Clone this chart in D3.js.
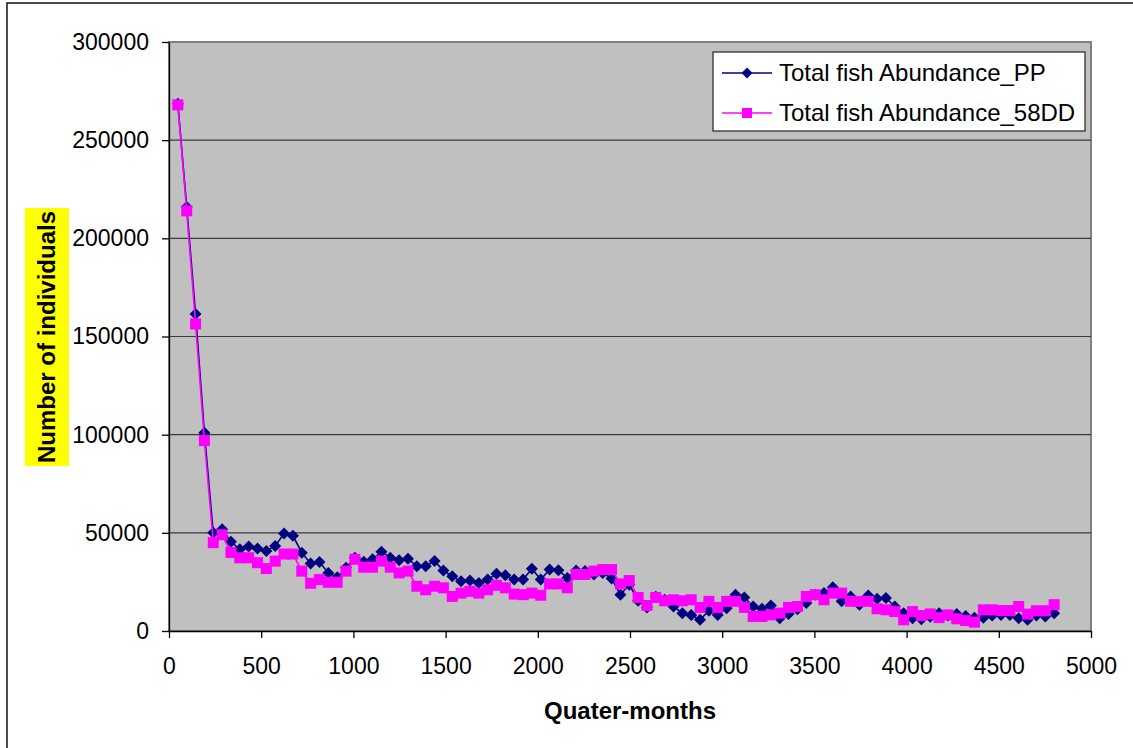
<!DOCTYPE html>
<html>
<head>
    <meta charset="utf-8">
    <title>Total fish abundance</title>
    <style>
        body { margin: 0; background: white; }
        svg { display: block; font-family: "Liberation Sans", Arial, sans-serif; }
    </style>
    <script src="https://cdnjs.cloudflare.com/ajax/libs/d3/7.8.5/d3.min.js"></script>
</head>
<body>
    <script>
        // quarter-months
        const months = [48, 96, 144, 192, 240, 288, 336, 384, 432, 480,
            528, 576, 624, 672, 720, 768, 816, 864, 912, 960,
            1008, 1056, 1104, 1152, 1200, 1248, 1296, 1344, 1392, 1440,
            1488, 1536, 1584, 1632, 1680, 1728, 1776, 1824, 1872, 1920,
            1968, 2016, 2064, 2112, 2160, 2208, 2256, 2304, 2352, 2400,
            2448, 2496, 2544, 2592, 2640, 2688, 2736, 2784, 2832, 2880,
            2928, 2976, 3024, 3072, 3120, 3168, 3216, 3264, 3312, 3360,
            3408, 3456, 3504, 3552, 3600, 3648, 3696, 3744, 3792, 3840,
            3888, 3936, 3984, 4032, 4080, 4128, 4176, 4224, 4272, 4320,
            4368, 4416, 4464, 4512, 4560, 4608, 4656, 4704, 4752, 4800]

        const abundancePP = [268500, 216000, 161500, 101000, 50000, 51800, 45400, 41600, 43000, 42000,
            40800, 43300, 49700, 48500, 39900, 34400, 35100, 29600, 27400, 32200,
            37300, 35300, 36500, 40400, 37300, 36000, 36800, 33000, 33000, 35600,
            30800, 27900, 25300, 25700, 24500, 26200, 29100, 28400, 26200, 26200,
            31700, 26200, 31300, 31000, 27000, 30800, 30500, 28800, 29600, 26700,
            18500, 23600, 15400, 12000, 17500, 15900, 12500, 9100, 8200, 5700,
            10300, 8200, 11600, 18500, 17100, 12500, 11300, 13000, 6500, 8600,
            11100, 14200, 18500, 19300, 22300, 15100, 17600, 13400, 18100, 16400,
            16800, 12500, 9100, 6500, 6000, 7200, 9100, 7900, 8700, 7700,
            6800, 6800, 7900, 8200, 8200, 6500, 5700, 7900, 7400, 9100]

        const abundance58DD = [268000, 214000, 156400, 97000, 45000, 49000, 40000, 37300, 37300, 34800,
            31800, 35600, 39200, 39200, 30500, 24300, 26200, 24800, 24800, 30500,
            36500, 32500, 32500, 35600, 32500, 29600, 30500, 22800, 21000, 22800,
            22000, 17600, 19300, 20200, 19300, 21000, 23300, 22000, 18800, 18500,
            19300, 18200, 24000, 24000, 22000, 28800, 28800, 30500, 31300, 31300,
            24000, 25700, 17100, 13000, 17100, 15400, 15900, 15400, 15900, 12000,
            15100, 12000, 15100, 15100, 12000, 7400, 7400, 8200, 9100, 12000,
            12500, 17600, 18500, 15900, 19300, 19300, 15100, 15100, 15100, 11300,
            10800, 9900, 5700, 9900, 7900, 8700, 6800, 8200, 6200, 5300,
            4500, 10800, 10800, 10400, 10400, 12500, 8600, 10300, 10300, 13400]

        const seriesNames = ["Total fish Abundance_PP", "Total fish Abundance_58DD"]
        const xTicks = [0, 500, 1000, 1500, 2000, 2500, 3000, 3500, 4000, 4500, 5000]
        const yTicks = [0, 50000, 100000, 150000, 200000, 250000, 300000]

        const width = 1133
        const height = 748
        const plot = {left: 169, right: 1091, top: 42, bottom: 631}
        const navy = "#000080"
        const magenta = "#FF00FF"

        let svg = d3.select("body").append("svg")
            .attr("width", width)
            .attr("height", height)

        // outer chart frame (runs off the right / bottom of the picture)
        svg.append("rect")
            .attr("x", 7).attr("y", 3)
            .attr("width", width + 20).attr("height", height + 20)
            .attr("fill", "white")
            .attr("stroke", "#111")
            .attr("stroke-width", 1.5)

        let x_scale = d3.scaleLinear()
            .domain([0, 5000])
            .range([plot.left, plot.right])
        let y_scale = d3.scaleLinear()
            .domain([0, 300000])
            .range([plot.bottom, plot.top])

        // plot area
        svg.append("rect")
            .attr("x", plot.left).attr("y", plot.top)
            .attr("width", plot.right - plot.left)
            .attr("height", plot.bottom - plot.top)
            .attr("fill", "#C0C0C0")
            .attr("stroke", "#808080")
            .attr("stroke-width", 2)

        svg.append("g")
            .selectAll("line")
            .data(yTicks.filter(d => d > 0 && d < 300000))
            .enter()
            .append("line")
                .attr("x1", plot.left).attr("x2", plot.right)
                .attr("y1", d => y_scale(d)).attr("y2", d => y_scale(d))
                .attr("stroke", "#3a3a3a")
                .attr("stroke-width", 1.2)

        let x_axis = svg.append("g")
            .attr("transform", `translate(0, ${plot.bottom})`)
            .call(d3.axisBottom(x_scale).tickValues(xTicks).tickSize(7).tickPadding(20).tickSizeOuter(0).tickFormat(d3.format("d")))
        let y_axis = svg.append("g")
            .attr("transform", `translate(${plot.left}, 0)`)
            .call(d3.axisLeft(y_scale).tickValues(yTicks).tickSize(7).tickPadding(13).tickSizeOuter(0).tickFormat(d3.format("d")))

        for (let ax of [x_axis, y_axis]) {
            ax.select(".domain").attr("stroke", "#000").attr("stroke-width", 1.3)
            ax.selectAll(".tick line").attr("stroke", "#000").attr("stroke-width", 1.3)
            ax.selectAll(".tick text")
                .attr("fill", "#000")
                .style("font-size", "23px")
                .style("font-family", "'Liberation Sans', Arial, sans-serif")
        }

        // series
        let pts = (vals) => d3.zip(months, vals)
        let line = d3.line()
            .x(d => x_scale(d[0]))
            .y(d => y_scale(d[1]))

        svg.append("path")
            .attr("d", line(pts(abundancePP)))
            .attr("fill", "none")
            .attr("stroke", navy)
            .attr("stroke-width", 1.6)

        svg.selectAll(".pp")
            .data(pts(abundancePP))
            .enter()
            .append("path")
                .attr("class", "pp")
                .attr("d", d3.symbol(d3.symbolSquare, 72)())
                .attr("transform", d => `translate(${x_scale(d[0])}, ${y_scale(d[1])}) rotate(45)`)
                .attr("fill", navy)

        svg.append("path")
            .attr("d", line(pts(abundance58DD)))
            .attr("fill", "none")
            .attr("stroke", magenta)
            .attr("stroke-width", 1.6)

        svg.selectAll(".dd")
            .data(pts(abundance58DD))
            .enter()
            .append("rect")
                .attr("class", "dd")
                .attr("x", d => x_scale(d[0]) - 5.5)
                .attr("y", d => y_scale(d[1]) - 5.5)
                .attr("width", 11)
                .attr("height", 11)
                .attr("fill", magenta)

        // legend
        let legend = svg.append("g")
        legend.append("rect")
            .attr("x", 713).attr("y", 52)
            .attr("width", 372).attr("height", 79)
            .attr("fill", "white")
            .attr("stroke", "#222")
            .attr("stroke-width", 1.2)

        let entries = legend.selectAll(".entry")
            .data([{name: seriesNames[0], color: navy, mark: "diamond"}, {name: seriesNames[1], color: magenta, mark: "square"}])
            .enter()
            .append("g")
                .attr("class", "entry")
                .attr("transform", (d, i) => `translate(0, ${73 + i * 40})`)
        entries.append("line")
            .attr("x1", 722).attr("x2", 772)
            .attr("stroke", d => d.color)
            .attr("stroke-width", 1.6)
        entries.filter(d => d.mark == "diamond").append("path")
            .attr("d", d3.symbol(d3.symbolSquare, 60)())
            .attr("transform", "translate(747, 0) rotate(45)")
            .attr("fill", navy)
        entries.filter(d => d.mark == "square").append("rect")
            .attr("x", 742).attr("y", -5)
            .attr("width", 10).attr("height", 10)
            .attr("fill", magenta)
        entries.append("text")
            .attr("x", 779)
            .attr("dy", "0.35em")
            .style("font-size", "24px")
            .text(d => d.name)

        // axis titles
        svg.append("text")
            .attr("x", (plot.left + plot.right) / 2)
            .attr("y", 719)
            .attr("text-anchor", "middle")
            .style("font-size", "24px")
            .style("font-weight", "bold")
            .text("Quater-months")

        let yTitle = svg.append("g")
            .attr("transform", "translate(47, 337) rotate(-90)")
        let yTitleBg = yTitle.append("rect").attr("fill", "#FFFF00")
        let yTitleText = yTitle.append("text")
            .attr("text-anchor", "middle")
            .attr("dy", "0.35em")
            .style("font-size", "24px")
            .style("font-weight", "bold")
            .text("Number of individuals")
        let bb = yTitleText.node().getBBox()
        yTitleBg
            .attr("x", bb.x - 3).attr("y", -22)
            .attr("width", bb.width + 6).attr("height", 44)
    </script>
</body>
</html>
